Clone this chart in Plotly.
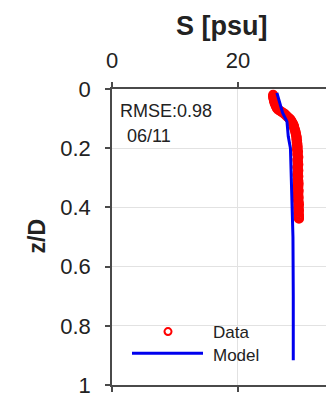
import plotly.graph_objects as go

# Data (salinity S [psu] vs normalized depth z/D)
data_z = [0.020, 0.025, 0.030, 0.035, 0.040, 0.045, 0.050, 0.055, 0.060, 0.065,
          0.070, 0.074, 0.078, 0.082, 0.086, 0.090, 0.094, 0.098, 0.102, 0.106,
          0.110, 0.114, 0.118, 0.122, 0.126, 0.130, 0.135, 0.140, 0.145, 0.150,
          0.155, 0.160, 0.165, 0.170, 0.175, 0.180, 0.185, 0.190, 0.195, 0.200,
          0.205, 0.210, 0.215, 0.220, 0.225, 0.230, 0.235, 0.240, 0.245, 0.250,
          0.255, 0.260, 0.265, 0.270, 0.275, 0.280, 0.285, 0.290, 0.295, 0.300,
          0.305, 0.310, 0.315, 0.320, 0.325, 0.330, 0.335, 0.340, 0.345, 0.350,
          0.355, 0.360, 0.365, 0.370, 0.375, 0.380, 0.385, 0.390, 0.395, 0.400,
          0.405, 0.410, 0.415, 0.420, 0.425, 0.430, 0.434, 0.438]
data_s = [25.6, 25.6, 25.65, 25.7, 25.75, 25.8, 25.9, 26.0, 26.1, 26.2,
          26.4, 26.7, 27.0, 27.3, 27.5, 27.7, 27.9, 28.1, 28.3, 28.45,
          28.55, 28.65, 28.75, 28.85, 28.9, 28.95, 29.0, 29.1, 29.15, 29.2,
          29.25, 29.3, 29.35, 29.3, 29.4, 29.35, 29.45, 29.4, 29.5, 29.45,
          29.4, 29.55, 29.5, 29.45, 29.5, 29.6, 29.5, 29.45, 29.55, 29.5,
          29.6, 29.5, 29.45, 29.55, 29.6, 29.5, 29.55, 29.45, 29.6, 29.55,
          29.5, 29.6, 29.55, 29.65, 29.5, 29.6, 29.55, 29.6, 29.65, 29.55,
          29.6, 29.5, 29.65, 29.6, 29.55, 29.65, 29.6, 29.7, 29.6, 29.65,
          29.6, 29.7, 29.65, 29.6, 29.7, 29.65, 29.7, 29.7]

model_s = [26.2, 27.1, 27.8, 28.0, 28.35, 28.6, 28.75, 28.8, 28.8]
model_z = [0.013, 0.08, 0.11, 0.16, 0.2, 0.35, 0.5, 0.7, 0.916]

x_ticks = [0, 20]
y_ticks = [0, 0.2, 0.4, 0.6, 0.8, 1]
y_ticklabels = ["0", "0.2", "0.4", "0.6", "0.8", "1"]

FONT = "Liberation Sans, Arial, sans-serif"
AX = "#4a4a4a"
TXT = "#222222"

fig = go.Figure()
fig.add_trace(go.Scatter(
    x=data_s, y=data_z, mode="markers",
    marker=dict(symbol="circle-open", size=8, color="#ff0000", line=dict(width=2.2, color="#ff0000")),
    showlegend=False))
fig.add_trace(go.Scatter(
    x=model_s, y=model_z, mode="lines",
    line=dict(color="#0000ee", width=3), showlegend=False))

W, H = 326, 398
L, T, R, B = 112, 89, 0, 10
pw, ph = W - L - R, H - T - B

def px(xp):
    return (xp - L) / pw

def py(yp):
    return 1 - (yp - T) / ph

fig.update_layout(
    width=W, height=H,
    margin=dict(l=L, r=R, t=T, b=B, pad=0),
    paper_bgcolor="white", plot_bgcolor="white",
    font=dict(family=FONT, color=TXT),
    xaxis=dict(range=[0, 34], side="top", tickvals=x_ticks, ticktext=[str(v) for v in x_ticks],
               showline=True, linecolor=AX, linewidth=1.5, mirror="ticks",
               ticks="outside", ticklen=5, tickcolor=AX, tickwidth=1.5,
               showgrid=True, gridcolor="#e2e2e2", gridwidth=1, zeroline=False,
               tickfont=dict(size=22, family=FONT, color=TXT), ticklabelstandoff=5,
               ticklabeloverflow="allow"),
    yaxis=dict(range=[1, 0], tickvals=y_ticks, ticktext=y_ticklabels,
               showline=True, linecolor=AX, linewidth=1.5, mirror=False,
               ticks="outside", ticklen=5, tickcolor=AX, tickwidth=1.5,
               showgrid=True, gridcolor="#e2e2e2", gridwidth=1, zeroline=False,
               tickfont=dict(size=22, family=FONT, color=TXT), ticklabelstandoff=10,
               ticklabeloverflow="allow"),
)

annotations = [
    dict(text="<b>S [psu]</b>", x=px(222), y=py(25), xref="paper", yref="paper",
         showarrow=False, xanchor="center", yanchor="middle", font=dict(size=27, family=FONT, color=TXT)),
    dict(text="<b>z/D</b>", x=px(37), y=py(238), xref="paper", yref="paper", textangle=-90,
         showarrow=False, xanchor="center", yanchor="middle", font=dict(size=23, family=FONT, color=TXT)),
    dict(text="RMSE:0.98", x=px(118), y=py(111.5), xref="paper", yref="paper",
         showarrow=False, xanchor="left", yanchor="middle", font=dict(size=18, family=FONT, color=TXT)),
    dict(text="06/11", x=px(125), y=py(136), xref="paper", yref="paper",
         showarrow=False, xanchor="left", yanchor="middle", font=dict(size=18, family=FONT, color=TXT)),
    dict(text="Data", x=px(211), y=py(335), xref="paper", yref="paper",
         showarrow=False, xanchor="left", yanchor="middle", font=dict(size=17, family=FONT, color=TXT)),
    dict(text="Model", x=px(211), y=py(358), xref="paper", yref="paper",
         showarrow=False, xanchor="left", yanchor="middle", font=dict(size=17, family=FONT, color=TXT)),
]
fig.update_layout(annotations=annotations)

# legend symbols
fig.add_shape(type="circle", xref="paper", yref="paper",
              x0=px(164.5), x1=px(171.5), y0=py(337.5), y1=py(330.5),
              line=dict(color="#ff0000", width=2))
fig.add_shape(type="line", xref="paper", yref="paper",
              x0=px(132), x1=px(203), y0=py(356), y1=py(356),
              line=dict(color="#0000ee", width=3))

fig.write_html("out.html")
